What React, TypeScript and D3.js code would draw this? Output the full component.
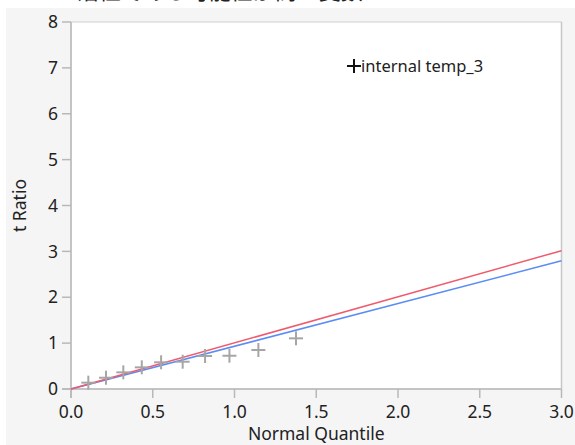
import React from "react";
import * as d3 from "d3";

const title = "ーー活性である可能性が高い変数";
const xTicks = [0, 0.5, 1.0, 1.5, 2.0, 2.5, 3.0];
const yTicks = [0, 1, 2, 3, 4, 5, 6, 7, 8];
const quantiles = [0.106, 0.214, 0.32, 0.433, 0.551, 0.683, 0.82, 0.969, 1.146, 1.376];
const tRatios = [0.138, 0.246, 0.363, 0.472, 0.582, 0.595, 0.719, 0.725, 0.85, 1.104];
const redSlope = 1.005;
const blueSlope = 0.932;
const legendLabel = "internal temp_3";
const xTitle = "Normal Quantile";
const yTitle = "t Ratio";

export default function App() {
  const W = 575, H = 445;
  const L = 71, R = 561.5, T = 22, B = 389;
  const x = d3.scaleLinear().domain([0, 3]).range([L, R]);
  const y = d3.scaleLinear().domain([0, 8]).range([B, T]);
  const font = "'Noto Sans', 'Segoe UI', sans-serif";
  const redPts = [0, 3].map((v) => [x(v), y(v * redSlope)] as [number, number]);
  const bluePts = [0, 3].map((v) => [x(v), y(v * blueSlope)] as [number, number]);
  const lineGen = d3.line();
  const m = 7;
  return (
    <svg width={W} height={H} style={{ position: "absolute", left: 0, top: 0 }} fontFamily={font}>
      <rect x={0} y={0} width={W} height={H} fill="#ffffff" />
      <text x={33} y={-1.5} fontSize={22} fontFamily="'Noto Sans CJK JP', sans-serif" fill="#222">{title}</text>
      <rect x={6} y={8} width={W - 6} height={H - 8} fill="#f5f5f5" />
      <rect x={L} y={T} width={R - L} height={B - T} fill="#ffffff" stroke="#d0d0d0" strokeWidth={1} />
      <line x1={L} y1={T} x2={L} y2={B + 9} stroke="#b8b8b8" strokeWidth={1.5} />
      <line x1={L - 9} y1={B} x2={R} y2={B} stroke="#b8b8b8" strokeWidth={1.5} />
      <line x1={R} y1={T} x2={R} y2={B} stroke="#c8c8c8" strokeWidth={1.5} />
      {yTicks.map((t) => (
        <g key={"y" + t}>
          <line x1={L - 9} x2={L} y1={y(t)} y2={y(t)} stroke="#b8b8b8" strokeWidth={1.5} />
          <text x={L - 13} y={y(t)} dy="0.35em" textAnchor="end" fontSize={17.5} fill="#222">{t}</text>
        </g>
      ))}
      {xTicks.map((t) => (
        <g key={"x" + t}>
          <line x1={x(t)} x2={x(t)} y1={B} y2={B + 9} stroke="#b8b8b8" strokeWidth={1.5} />
          <text x={x(t)} y={B + 23} dy="0.35em" textAnchor="middle" fontSize={17.5} fill="#222">{t.toFixed(1)}</text>
        </g>
      ))}
      <text x={(L + R) / 2} y={434} dy="0.35em" textAnchor="middle" fontSize={17.5} fill="#222">{xTitle}</text>
      <text transform={`translate(20,${(T + B) / 2}) rotate(-90)`} dy="0.35em" textAnchor="middle" fontSize={17.5} fill="#222">{yTitle}</text>
      <path d={lineGen(bluePts) || ""} stroke="#5b8cf5" strokeWidth={1.5} fill="none" />
      <path d={lineGen(redPts) || ""} stroke="#ef5a6c" strokeWidth={1.5} fill="none" />
      {quantiles.map((q, i) => (
        <g key={"p" + i} stroke="#a6a6a6" strokeWidth={2}>
          <line x1={x(q) - m} x2={x(q) + m} y1={y(tRatios[i])} y2={y(tRatios[i])} />
          <line x1={x(q)} x2={x(q)} y1={y(tRatios[i]) - m} y2={y(tRatios[i]) + m} />
        </g>
      ))}
      <g stroke="#111" strokeWidth={2}>
        <line x1={347} x2={361} y1={66} y2={66} />
        <line x1={354} x2={354} y1={59} y2={73} />
      </g>
      <text x={361} y={66} dy="0.35em" fontSize={16.5} fill="#222">{legendLabel}</text>
    </svg>
  );
}
